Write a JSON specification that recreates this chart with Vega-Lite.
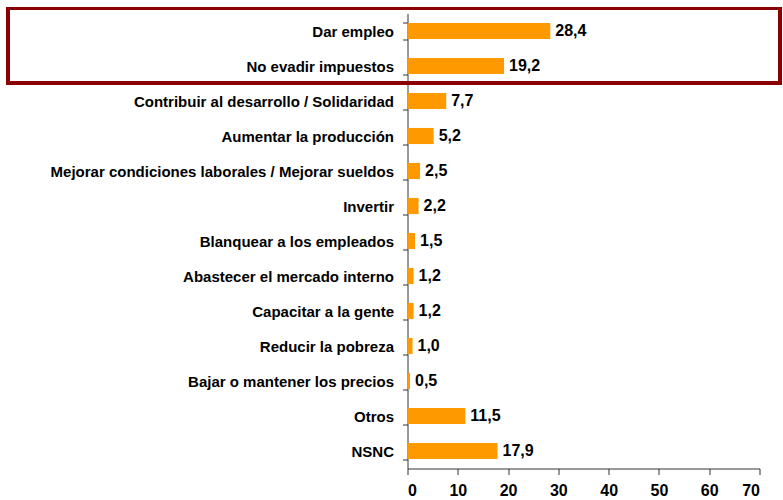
{
  "$schema": "https://vega.github.io/schema/vega-lite/v6.json",
  "width": 352,
  "height": 455,
  "autosize": {"type": "none"},
  "padding": {"left": 407.5, "top": 13.5, "right": 23.5, "bottom": 31.5},
  "background": "white",
  "config": {
    "view": {"stroke": null},
    "font": "Liberation Sans",
    "locale": {"number": {"decimal": ",", "thousands": ".", "grouping": [3], "currency": ["$", ""]}}
  },
  "data": {
    "values": [
      {"motivo": "Dar empleo", "pct": 28.4},
      {"motivo": "No evadir impuestos", "pct": 19.2},
      {"motivo": "Contribuir al desarrollo / Solidaridad", "pct": 7.7},
      {"motivo": "Aumentar la producción", "pct": 5.2},
      {"motivo": "Mejorar condiciones laborales / Mejorar sueldos", "pct": 2.5},
      {"motivo": "Invertir", "pct": 2.2},
      {"motivo": "Blanquear a los empleados", "pct": 1.5},
      {"motivo": "Abastecer el mercado interno", "pct": 1.2},
      {"motivo": "Capacitar a la gente", "pct": 1.2},
      {"motivo": "Reducir la pobreza", "pct": 1.0},
      {"motivo": "Bajar o mantener los precios", "pct": 0.5},
      {"motivo": "Otros", "pct": 11.5},
      {"motivo": "NSNC", "pct": 17.9}
    ]
  },
  "layer": [
    {
      "layer": [
        {
          "mark": {"type": "bar", "color": "#FF9900"},
          "encoding": {
            "y": {
              "field": "motivo", "type": "nominal", "sort": null,
              "scale": {"paddingInner": 0.54, "paddingOuter": 0.27},
              "axis": {
                "title": null, "tickBand": "extent", "tickSize": 5, "labelPadding": 9,
                "labelFontSize": 15, "labelFontWeight": "bold", "labelColor": "#000",
                "domainColor": "#333", "tickColor": "#333", "labelLimit": 400
              }
            },
            "x": {
              "field": "pct", "type": "quantitative",
              "scale": {"domain": [0, 70], "nice": false},
              "axis": {
                "title": null, "values": [0, 10, 20, 30, 40, 50, 60, 70], "grid": false,
                "tickSize": 6, "labelPadding": 8, "labelFontSize": 16, "labelFontWeight": "bold",
                "labelColor": "#000", "domainColor": "#333", "tickColor": "#333", "format": "d"
              }
            }
          }
        },
        {
          "mark": {"type": "text", "align": "left", "dx": 5, "fontSize": 16, "fontWeight": "bold", "color": "#000"},
          "encoding": {
            "y": {"field": "motivo", "type": "nominal", "sort": null},
            "x": {"field": "pct", "type": "quantitative"},
            "text": {"field": "pct", "type": "quantitative", "format": ".1f"}
          }
        }
      ]
    },
    {
      "mark": {"type": "rect", "fill": null, "stroke": "#8B0000", "strokeWidth": 3, "clip": false},
      "encoding": {
        "x": {"datum": -79.4, "type": "quantitative"},
        "x2": {"datum": 74.1},
        "y": {"datum": -0.143, "type": "quantitative", "scale": {"domain": [0, 13], "reverse": true, "nice": false, "zero": false}, "axis": null},
        "y2": {"datum": 1.986}
      }
    }
  ],
  "resolve": {"scale": {"y": "independent"}, "axis": {"y": "independent"}}
}
